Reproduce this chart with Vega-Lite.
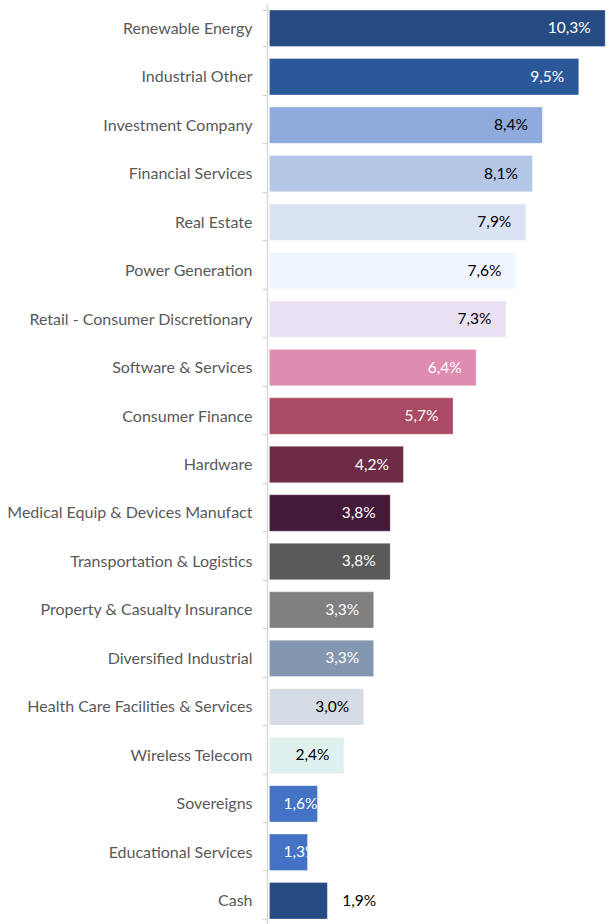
{
  "$schema": "https://vega.github.io/schema/vega-lite/v6.json",
  "autosize": "none",
  "padding": {"left": 264.5, "top": 4, "right": 0, "bottom": 0},
  "width": 344,
  "height": 921,
  "background": "white",
  "config": {"view": {"stroke": null}},
  "data": {
    "values": [
      {"sector": "Renewable Energy", "value": 10.3, "label": "10,3%"},
      {"sector": "Industrial Other", "value": 9.5, "label": "9,5%"},
      {"sector": "Investment Company", "value": 8.4, "label": "8,4%"},
      {"sector": "Financial Services", "value": 8.1, "label": "8,1%"},
      {"sector": "Real Estate", "value": 7.9, "label": "7,9%"},
      {"sector": "Power Generation", "value": 7.6, "label": "7,6%"},
      {"sector": "Retail - Consumer Discretionary", "value": 7.3, "label": "7,3%"},
      {"sector": "Software & Services", "value": 6.4, "label": "6,4%"},
      {"sector": "Consumer Finance", "value": 5.7, "label": "5,7%"},
      {"sector": "Hardware", "value": 4.2, "label": "4,2%"},
      {"sector": "Medical Equip & Devices Manufact", "value": 3.8, "label": "3,8%"},
      {"sector": "Transportation & Logistics", "value": 3.8, "label": "3,8%"},
      {"sector": "Property & Casualty Insurance", "value": 3.3, "label": "3,3%"},
      {"sector": "Diversified Industrial", "value": 3.3, "label": "3,3%"},
      {"sector": "Health Care Facilities & Services", "value": 3.0, "label": "3,0%"},
      {"sector": "Wireless Telecom", "value": 2.4, "label": "2,4%"},
      {"sector": "Sovereigns", "value": 1.6, "label": "1,6%"},
      {"sector": "Educational Services", "value": 1.3, "label": "1,3%"},
      {"sector": "Cash", "value": 1.9, "label": "1,9%"}
    ]
  },
  "encoding": {
    "y": {
      "field": "sector",
      "type": "nominal",
      "sort": null,
      "scale": {"paddingInner": 0.25, "paddingOuter": 0.125},
      "axis": {
        "title": null,
        "domainColor": "#d9d9d9",
        "domainWidth": 1.5,
        "tickColor": "#d9d9d9",
        "tickWidth": 1.5,
        "tickSize": 5,
        "tickBand": "extent",
        "labelPadding": 10,
        "labelFont": "Lato",
        "labelFontSize": 16,
        "labelColor": "#595959",
        "labelLimit": 300,
        "offset": -2.5
      }
    }
  },
  "layer": [
    {
      "mark": {"type": "bar", "stroke": "white", "strokeOpacity": 0.4, "strokeWidth": 0.75},
      "encoding": {
        "x": {"field": "value", "type": "quantitative", "scale": {"domain": [0, 10.4], "nice": false, "zero": true}, "axis": null},
        "x2": {"datum": 0.15},
        "color": {
          "field": "sector",
          "type": "nominal",
          "legend": null,
          "scale": {
            "domain": ["Renewable Energy", "Industrial Other", "Investment Company", "Financial Services", "Real Estate", "Power Generation", "Retail - Consumer Discretionary", "Software & Services", "Consumer Finance", "Hardware", "Medical Equip & Devices Manufact", "Transportation & Logistics", "Property & Casualty Insurance", "Diversified Industrial", "Health Care Facilities & Services", "Wireless Telecom", "Sovereigns", "Educational Services", "Cash"],
            "range": ["#264A82", "#2B5899", "#8FAADC", "#B4C7E7", "#DAE3F3", "#EFF6FF", "#E8E1F2", "#DE8CB0", "#AB4A65", "#6E2B45", "#44193A", "#595959", "#808080", "#8497B0", "#D6DCE5", "#DEF1EE", "#4472C4", "#4472C4", "#264A82"]
          }
        }
      }
    },
    {
      "transform": [{"filter": "datum.value >= 2"}],
      "mark": {"type": "text", "align": "right", "dx": -14.5, "font": "Lato", "fontSize": 15.5, "baseline": "middle"},
      "encoding": {
        "x": {"field": "value", "type": "quantitative"},
        "text": {"field": "label"},
        "color": {
          "condition": {"test": "indexof(['Investment Company','Financial Services','Real Estate','Power Generation','Retail - Consumer Discretionary','Health Care Facilities & Services','Wireless Telecom'], datum.sector) >= 0", "value": "#000000"},
          "value": "#ffffff"
        }
      }
    },
    {
      "transform": [{"filter": "datum.sector == 'Sovereigns' || datum.sector == 'Educational Services'"}],
      "mark": {"type": "text", "align": "right", "font": "Lato", "fontSize": 15.5, "baseline": "middle", "color": "#ffffff"},
      "encoding": {
        "x": {"datum": 1.6},
        "text": {"field": "label"}
      }
    },
    {
      "transform": [{"filter": "datum.sector == 'Cash'"}],
      "mark": {"type": "text", "align": "left", "dx": 15, "font": "Lato", "fontSize": 15.5, "baseline": "middle", "color": "#000000"},
      "encoding": {
        "x": {"field": "value", "type": "quantitative"},
        "text": {"field": "label"}
      }
    }
  ]
}
